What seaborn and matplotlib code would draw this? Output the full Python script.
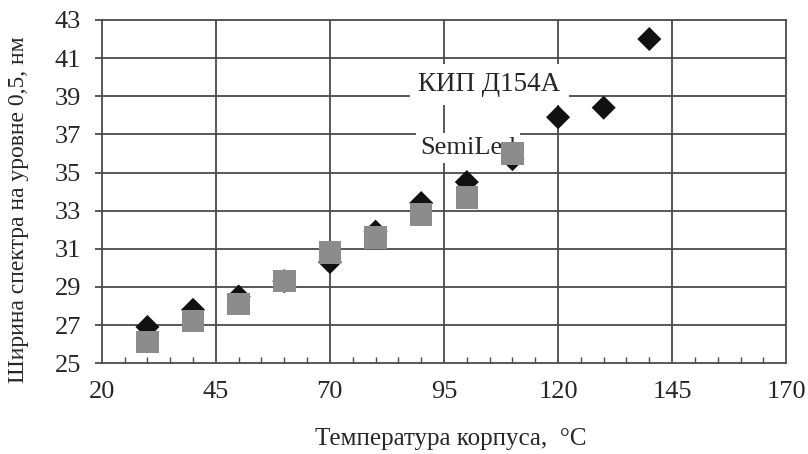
import matplotlib
matplotlib.use('Agg')
import matplotlib.pyplot as plt
import pandas as pd
import seaborn as sns
from matplotlib.ticker import MultipleLocator

# measured points
kip_temp = [30, 40, 50, 60, 70, 80, 90, 100, 110, 120, 130, 140]
kip_width = [26.9, 27.8, 28.5, 29.3, 30.3, 31.9, 33.4, 34.5, 35.7, 37.9, 38.4, 42.0]
semi_temp = [30, 40, 50, 60, 70, 80, 90, 100, 110]
semi_width = [26.1, 27.2, 28.1, 29.3, 30.8, 31.6, 32.8, 33.7, 36.0]

x_ticks = [20, 45, 70, 95, 120, 145, 170]
y_ticks = [25, 27, 29, 31, 33, 35, 37, 39, 41, 43]

sns.set_style('white')
plt.rcParams['font.family'] = ['Liberation Serif', 'DejaVu Serif']

kip = pd.DataFrame({'t': kip_temp, 'w': kip_width})
semi = pd.DataFrame({'t': semi_temp, 'w': semi_width})

fig = plt.figure(figsize=(8.08, 4.54), dpi=100)
ax = fig.add_axes([0.126, 0.2, 0.847, 0.756])

grid_c = '#4a4a4a'
for v in x_ticks[1:-1]:
    ax.axvline(v, color=grid_c, lw=1.3, zorder=1)
for v in y_ticks[1:-1]:
    ax.axhline(v, color=grid_c, lw=1.3, zorder=1)

sns.scatterplot(data=kip, x='t', y='w', marker='D', s=150, color='#111111',
                edgecolor='none', ax=ax, zorder=3)
sns.scatterplot(data=semi, x='t', y='w', marker='s', s=260, color='#8c8c8c',
                edgecolor='none', ax=ax, zorder=4)

ax.set_xlim(20, 170)
ax.set_ylim(25, 43)
ax.set_xticks(x_ticks)
ax.set_yticks(y_ticks)
ax.xaxis.set_minor_locator(MultipleLocator(5))
ax.tick_params(axis='x', which='major', direction='out', length=7, width=1.3,
               color=grid_c, labelsize=19, pad=6)
ax.tick_params(axis='x', which='minor', direction='in', length=4, width=1,
               color=grid_c, bottom=True)
ax.tick_params(axis='y', which='major', direction='out', length=5, width=1.3,
               color=grid_c, labelsize=19, left=True, pad=10)
for s in ax.spines.values():
    s.set_color(grid_c)
    s.set_linewidth(1.3)

ax.set_xlabel('Температура корпуса,  °C', fontsize=18)
ax.set_ylabel('Ширина спектра на уровне 0,5, нм', fontsize=17)
ax.xaxis.set_label_coords(0.51, -0.188)
ax.yaxis.set_label_coords(-0.106, 0.446)

ax.text(105, 39.6, 'КИП Д154А', fontsize=19.5, ha='center', va='center',
        bbox=dict(boxstyle='square,pad=0.3', facecolor='white', edgecolor='none'),
        zorder=5)
ax.text(100.3, 36.3, 'SemiLed', fontsize=19, ha='center', va='center',
        bbox=dict(boxstyle='square,pad=0.15', facecolor='white', edgecolor='none'),
        zorder=3.5)

fig.savefig('out.png', dpi=100)
